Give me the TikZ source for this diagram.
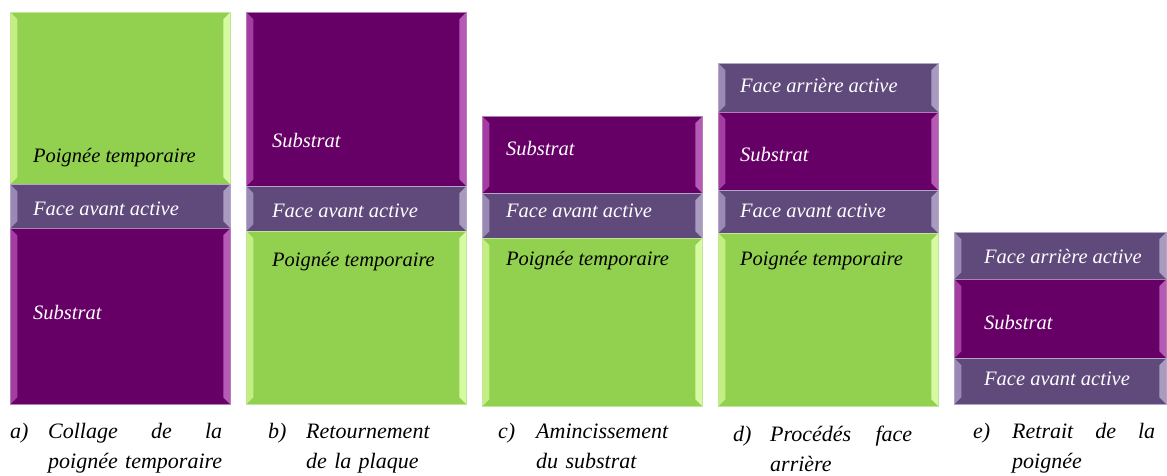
\documentclass[tikz,border=0pt]{standalone}
\usepackage{fontspec}
\setmainfont{Liberation Serif}
\usepackage{tikz}
\usepackage{xcolor}

\definecolor{vertpoig}{HTML}{92D050}
\definecolor{vertbord}{HTML}{C2E59A}
\definecolor{vertg}{HTML}{C2EE84}
\definecolor{vertd}{HTML}{D6FAA2}
\definecolor{violsub}{HTML}{660066}
\definecolor{violbord}{HTML}{B27FB2}
\definecolor{violg}{HTML}{A43CA4}
\definecolor{viold}{HTML}{B55AB5}
\definecolor{violface}{HTML}{604A7B}
\definecolor{facebord}{HTML}{B3A6C6}
\definecolor{faceg}{HTML}{9A89B4}
\definecolor{faced}{HTML}{A99ABF}

\tikzset{
  couche/.style={rectangle, anchor=north west, inner sep=0pt, minimum width=220pt, line width=0.6pt},
  biseau/.style 2 args={path picture={
    \fill[#1] (path picture bounding box.north west) -- ([shift={(7pt,-7pt)}]path picture bounding box.north west)
      -- ([shift={(7pt,7pt)}]path picture bounding box.south west) -- (path picture bounding box.south west) -- cycle;
    \fill[#2] (path picture bounding box.north east) -- ([shift={(-7pt,-7pt)}]path picture bounding box.north east)
      -- ([shift={(-7pt,7pt)}]path picture bounding box.south east) -- (path picture bounding box.south east) -- cycle;
  }},
  poig/.style={couche, fill=vertpoig, draw=vertbord, biseau={vertg}{vertd}},
  subs/.style={couche, fill=violsub, draw=violbord, biseau={violg}{viold}},
  face/.style={couche, fill=violface, draw=facebord, biseau={faceg}{faced}},
  txtn/.style={anchor=base west, inner sep=0pt, font=\fontsize{20.5}{24}\selectfont\itshape},
  txtb/.style={txtn, text=white},
  legende/.style={anchor=base west, inner sep=0pt, font=\fontsize{22}{30}\selectfont\itshape, align=left},
}

\begin{document}
\begin{tikzpicture}[x=1pt, y=1pt]
\useasboundingbox (0,0) rectangle (1167,-476);

% a) collage
\node[poig, minimum height=172] (pa) at (10,-12) {};
\node[face, minimum height=44] (fa) at (10,-184) {};
\node[subs, minimum height=176] (sa) at (10,-228) {};
\node[txtn] (tpa) at (33,-163) {Poignée temporaire};
\node[txtb] (tfa) at (33,-215) {Face avant active};
\node[txtb] (tsa) at (33,-319) {Substrat};
\node[legende] (la) at (10,-438) {a)};
\node[legende, text width=174] (ca) at (48,-438) {Collage\hfill de\hfill la\\poignée temporaire};

% b) retournement
\node[subs, minimum height=174] (sb) at (246,-12) {};
\node[face, minimum height=45] (fb) at (246,-186) {};
\node[poig, minimum height=173] (pb) at (246,-231) {};
\node[txtb] (tsb) at (272,-147) {Substrat};
\node[txtb] (tfb) at (272,-217) {Face avant active};
\node[txtn] (tpb) at (272,-266) {Poignée temporaire};
\node[legende] (lb) at (268,-438) {b)};
\node[legende, text width=150] (cb) at (306,-438) {Retournement\\de la plaque};

% c) amincissement
\node[subs, minimum height=77] (sc) at (482,-116) {};
\node[face, minimum height=45] (fc) at (482,-193) {};
\node[poig, minimum height=168] (pc) at (482,-238) {};
\node[txtb] (tsc) at (506,-156) {Substrat};
\node[txtb] (tfc) at (506,-217) {Face avant active};
\node[txtn] (tpc) at (506,-265) {Poignée temporaire};
\node[legende] (lc) at (498,-438) {c)};
\node[legende, text width=150] (cc) at (536,-438) {Amincissement\\du substrat};

% d) face arriere
\node[face, minimum height=49] (rd) at (718,-63) {};
\node[subs, minimum height=78] (sd) at (718,-112) {};
\node[face, minimum height=43] (fd) at (718,-190) {};
\node[poig, minimum height=173] (pd) at (718,-233) {};
\node[txtb] (trd) at (740,-93) {Face arrière active};
\node[txtb] (tsd) at (740,-161) {Substrat};
\node[txtb] (tfd) at (740,-217) {Face avant active};
\node[txtn] (tpd) at (740,-265) {Poignée temporaire};
\node[legende] (ld) at (733,-441) {d)};
\node[legende, text width=142] (cd) at (770,-441) {Procédés\hfill face\\arrière};

% e) retrait
\node[face, minimum width=212, minimum height=47] (re) at (954,-232) {};
\node[subs, minimum width=212, minimum height=79] (se) at (954,-279) {};
\node[face, minimum width=212, minimum height=46] (fe) at (954,-358) {};
\node[txtb] (tre) at (984,-263) {Face arrière active};
\node[txtb] (tse) at (984,-329) {Substrat};
\node[txtb] (tfe) at (984,-385) {Face avant active};
\node[legende] (le) at (973,-438) {e)};
\node[legende, text width=143] (ce) at (1012,-438) {Retrait\hfill de\hfill la\\poignée};
\end{tikzpicture}
\end{document}
